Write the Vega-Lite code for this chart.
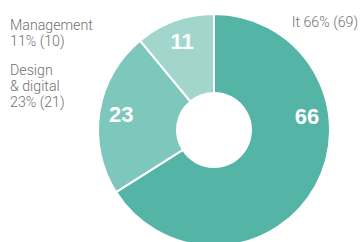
{
  "$schema": "https://vega.github.io/schema/vega-lite/v6.json",
  "width": 232,
  "height": 232,
  "autosize": {"type": "none"},
  "padding": {"left": 98, "top": 14, "right": 31, "bottom": 0},
  "config": {"view": {"stroke": null}},
  "data": {
    "values": [
      {"cat": "It", "pct": 66, "n": 69, "label": "It 66% (69)"},
      {"cat": "Design & digital", "pct": 23, "n": 21, "label": "Design\n& digital\n23% (21)"},
      {"cat": "Management", "pct": 11, "n": 10, "label": "Management\n11% (10)"}
    ]
  },
  "encoding": {
    "theta": {"field": "pct", "type": "quantitative", "stack": true},
    "order": {"field": "pct", "sort": "descending"}
  },
  "layer": [
    {
      "mark": {"type": "arc", "outerRadius": 116, "innerRadius": 37, "stroke": "white", "strokeWidth": 2},
      "encoding": {
        "color": {
          "field": "cat",
          "type": "nominal",
          "scale": {"domain": ["It", "Design & digital", "Management"], "range": ["#54b4a6", "#7ec7bc", "#a2d6cd"]},
          "legend": null
        }
      }
    },
    {
      "mark": {"type": "text", "radius": 94, "font": "Liberation Sans", "fontWeight": "bold", "fontSize": 22, "fill": "white", "baseline": "middle", "align": "center"},
      "encoding": {
        "text": {"condition": {"test": "datum.cat === 'It'", "value": ""}, "field": "pct", "type": "quantitative"}
      }
    },
    {
      "mark": {"type": "text", "radius": 94, "dx": 10.6, "dy": -58.6, "font": "Liberation Sans", "fontWeight": "bold", "fontSize": 22, "fill": "white", "baseline": "middle", "align": "center"},
      "encoding": {
        "text": {"condition": {"test": "datum.cat !== 'It'", "value": ""}, "field": "pct", "type": "quantitative"}
      }
    },
    {
      "mark": {"type": "text", "radius": 100, "dx": 56.4, "dy": -151.2, "font": "Roboto", "fontWeight": 300, "fontSize": 14.2, "fill": "#707070", "align": "right", "baseline": "alphabetic", "lineBreak": "\n", "lineHeight": 15.5},
      "encoding": {
        "text": {"condition": {"test": "datum.cat !== 'It'", "value": ""}, "field": "label", "type": "nominal"}
      }
    },
    {
      "mark": {"type": "text", "radius": 100, "dx": -105.2, "dy": -39.4, "font": "Roboto", "fontWeight": 300, "fontSize": 14.2, "fill": "#707070", "align": "left", "baseline": "alphabetic", "lineBreak": "\n", "lineHeight": 16},
      "encoding": {
        "text": {"condition": {"test": "datum.cat !== 'Design & digital'", "value": ""}, "field": "label", "type": "nominal"}
      }
    },
    {
      "mark": {"type": "text", "radius": 100, "dx": -170.1, "dy": -5.9, "font": "Roboto", "fontWeight": 300, "fontSize": 14.2, "fill": "#707070", "align": "left", "baseline": "alphabetic", "lineBreak": "\n", "lineHeight": 15.5},
      "encoding": {
        "text": {"condition": {"test": "datum.cat !== 'Management'", "value": ""}, "field": "label", "type": "nominal"}
      }
    }
  ]
}
